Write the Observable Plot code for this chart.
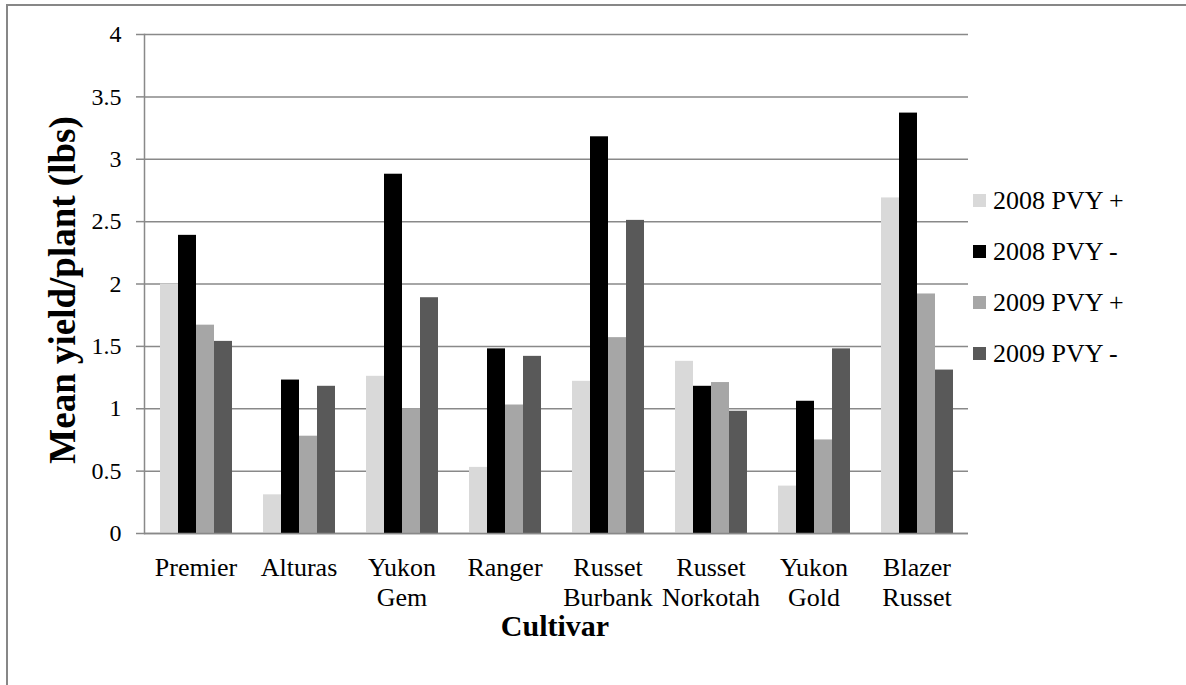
<!DOCTYPE html>
<html>
<head>
<meta charset="utf-8">
<script src="https://cdn.jsdelivr.net/npm/d3@7"></script>
<script src="https://cdn.jsdelivr.net/npm/@observablehq/plot@0.6"></script>
<style>
  html, body { margin: 0; padding: 0; background: #fff; overflow: hidden; }
  #chart { position: relative; width: 1186px; height: 685px; font-family: "Liberation Serif", "DejaVu Serif", serif; color: #000; }
  #chart svg { position: absolute; left: 0; top: 0; }
  #border { position: absolute; left: 6px; top: 4px; right: -4px; bottom: -4px;
            border-left: 2px solid #878787; border-top: 2px solid #878787; pointer-events: none; }
  #ytitle { position: absolute; left: 62px; top: 290px; transform: translate(-50%, -50%) rotate(-90deg);
            font-weight: bold; font-size: 37px; white-space: nowrap; line-height: 1; }
  #xtitle { position: absolute; left: 555px; top: 626px; transform: translate(-50%, -50%);
            font-weight: bold; font-size: 30px; white-space: nowrap; line-height: 1; }
  #legend { position: absolute; left: 973px; top: 175px; font-size: 26px; }
  #legend .row { display: flex; align-items: center; height: 51px; white-space: nowrap; }
  #legend .sw { width: 13px; height: 13px; margin-right: 7px; flex: none; }
</style>
</head>
<body>
<div id="chart">
  <div id="ytitle">Mean yield/plant (lbs)</div>
  <div id="xtitle">Cultivar</div>
  <div id="legend"></div>
  <div id="border"></div>
</div>
<script>
// Cultivars along the x axis (line breaks as shown under each group)
const cultivars = ["Premier", "Alturas", "Yukon\nGem", "Ranger", "Russet\nBurbank", "Russet\nNorkotah", "Yukon\nGold", "Blazer\nRusset"];

// Series (year × PVY status) and their greys
const series = ["2008 PVY +", "2008 PVY -", "2009 PVY +", "2009 PVY -"];
const seriesColors = ["#d9d9d9", "#000000", "#a6a6a6", "#595959"];

// Mean yield per plant (lbs), one value per cultivar
const pvy2008Pos = [2.00, 0.31, 1.26, 0.53, 1.22, 1.38, 0.38, 2.69];
const pvy2008Neg = [2.39, 1.23, 2.88, 1.48, 3.18, 1.18, 1.06, 3.37];
const pvy2009Pos = [1.67, 0.78, 1.00, 1.03, 1.57, 1.21, 0.75, 1.92];
const pvy2009Neg = [1.54, 1.18, 1.89, 1.42, 2.51, 0.98, 1.48, 1.31];

// Y axis ticks
const yTicks = [0, 0.5, 1, 1.5, 2, 2.5, 3, 3.5, 4];

const seriesValues = [pvy2008Pos, pvy2008Neg, pvy2009Pos, pvy2009Neg];
const data = [];
cultivars.forEach((c, i) => {
  series.forEach((s, j) => data.push({cultivar: c, series: s, value: seriesValues[j][i]}));
});

const axisGrey = "#898989";

const chart = Plot.plot({
  width: 1186,
  height: 685,
  marginLeft: 142,
  marginRight: 217,
  marginTop: 34,
  marginBottom: 152,
  style: {fontFamily: "'Liberation Serif', 'DejaVu Serif', serif", fontSize: "26px", background: "transparent", color: "#000"},
  fx: {domain: cultivars, padding: 0, label: null},
  x: {domain: series, paddingInner: 0, paddingOuter: 0.755, axis: null},
  y: {domain: [0, 4], label: null},
  color: {domain: series, range: seriesColors},
  marks: [
    Plot.gridY(yTicks, {stroke: axisGrey, strokeOpacity: 1, strokeWidth: 1.5}),
    Plot.barY(data, {fx: "cultivar", x: "series", y: "value", fill: "series"}),
    Plot.ruleY([0], {stroke: axisGrey, strokeWidth: 1.5}),
    Plot.frame({anchor: "left", stroke: axisGrey, strokeWidth: 1.5, facetAnchor: "left"}),
    Plot.axisY(yTicks, {
      tickSize: 8, tickPadding: 15, stroke: axisGrey, strokeWidth: 1.5, fill: "#000",
      fontSize: 24, tickFormat: d => String(d), label: null
    }),
    Plot.axisFx({anchor: "bottom", tickSize: 0, tickPadding: 22, lineHeight: 1.13, fontSize: 26, fill: "#000", label: null})
  ]
});

document.getElementById("chart").prepend(chart);

// Legend to the right of the plot
const legend = d3.select("#legend");
series.forEach((s, i) => {
  const row = legend.append("div").attr("class", "row");
  row.append("div").attr("class", "sw").style("background", seriesColors[i]);
  row.append("span").text(s);
});
</script>
</body>
</html>
